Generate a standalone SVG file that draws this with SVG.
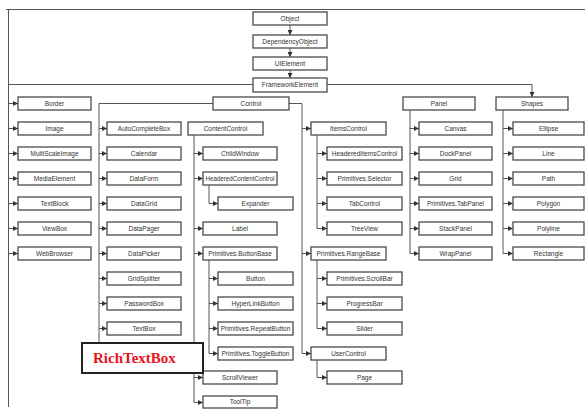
<svg xmlns="http://www.w3.org/2000/svg" width="585" height="409" viewBox="0 0 585 409">
<style>
.b rect{fill:#fff;stroke:#4a4a4a;stroke-width:1.3}
.b text{font-family:"Liberation Sans",Arial,sans-serif;font-size:6.5px;fill:#333;text-anchor:middle}
.c path{fill:none;stroke:#555;stroke-width:1}
.c .a{marker-end:url(#ah)}
</style>
<defs>
<marker id="ah" markerUnits="userSpaceOnUse" markerWidth="5" markerHeight="5" refX="5" refY="2.5" orient="auto">
<path d="M0,0 L5,2.5 L0,5 z" fill="#333"/>
</marker>
</defs>
<rect width="585" height="409" fill="#fff"/>
<g id="connectors" class="c">
<path d="M6,9.5 H585"/>
<path d="M8.5,9 V407"/>
<path class="a" d="M290,25 V35"/>
<path class="a" d="M290,48 V57"/>
<path class="a" d="M290,70 V78"/>
<path d="M253,84.5 H8.5"/>
<path class="a" d="M327,84.5 H532 V97"/>
<path class="a" d="M8.5,103.5 H18"/>
<path class="a" d="M8.5,128.5 H18"/>
<path class="a" d="M8.5,153.5 H18"/>
<path class="a" d="M8.5,178.5 H18"/>
<path class="a" d="M8.5,203.5 H18"/>
<path class="a" d="M8.5,228.5 H18"/>
<path class="a" d="M8.5,253.5 H18"/>
<path d="M213,103.5 H99 V343"/>
<path class="a" d="M99,128.5 H107"/>
<path class="a" d="M99,153.5 H107"/>
<path class="a" d="M99,178.5 H107"/>
<path class="a" d="M99,203.5 H107"/>
<path class="a" d="M99,228.5 H107"/>
<path class="a" d="M99,253.5 H107"/>
<path class="a" d="M99,278.5 H107"/>
<path class="a" d="M99,303.5 H107"/>
<path class="a" d="M99,328.5 H107"/>
<path d="M194,135 V402.5"/>
<path class="a" d="M194,153.5 H203"/>
<path class="a" d="M194,178.5 H203"/>
<path class="a" d="M194,228.5 H203"/>
<path class="a" d="M194,253.5 H203"/>
<path class="a" d="M194,377.5 H203"/>
<path class="a" d="M194,402.5 H203"/>
<path class="a" d="M209,185 V203.5 H218"/>
<path d="M209,260 V353.5"/>
<path class="a" d="M209,278.5 H218"/>
<path class="a" d="M209,303.5 H218"/>
<path class="a" d="M209,328.5 H218"/>
<path class="a" d="M209,353.5 H218"/>
<path d="M289,103.5 H302 V353.5"/>
<path class="a" d="M302,128.5 H311"/>
<path class="a" d="M302,253.5 H311"/>
<path class="a" d="M302,353.5 H311"/>
<path d="M317,135 V228.5"/>
<path class="a" d="M317,153.5 H327"/>
<path class="a" d="M317,178.5 H327"/>
<path class="a" d="M317,203.5 H327"/>
<path class="a" d="M317,228.5 H327"/>
<path d="M317,260 V328.5"/>
<path class="a" d="M317,278.5 H327"/>
<path class="a" d="M317,303.5 H327"/>
<path class="a" d="M317,328.5 H327"/>
<path class="a" d="M317,360 V377.5 H327"/>
<path d="M410,110 V253.5"/>
<path class="a" d="M410,128.5 H419"/>
<path class="a" d="M410,153.5 H419"/>
<path class="a" d="M410,178.5 H419"/>
<path class="a" d="M410,203.5 H419"/>
<path class="a" d="M410,228.5 H419"/>
<path class="a" d="M410,253.5 H419"/>
<path d="M503,110 V253.5"/>
<path class="a" d="M503,128.5 H513"/>
<path class="a" d="M503,153.5 H513"/>
<path class="a" d="M503,178.5 H513"/>
<path class="a" d="M503,203.5 H513"/>
<path class="a" d="M503,228.5 H513"/>
<path class="a" d="M503,253.5 H513"/>
</g>
<g class="b">
<g id="n-object"><rect x="253" y="12" width="74" height="13"/><text x="290" y="20.8">Object</text></g>
<g id="n-dependencyobject"><rect x="253" y="35" width="74" height="13"/><text x="290" y="43.8">DependencyObject</text></g>
<g id="n-uielement"><rect x="253" y="57" width="74" height="13"/><text x="290" y="65.8">UIElement</text></g>
<g id="n-frameworkelement"><rect x="253" y="78" width="74" height="14"/><text x="290" y="87.3">FrameworkElement</text></g>

<g id="n-border"><rect x="18" y="97" width="73" height="13"/><text x="54.5" y="105.8">Border</text></g>
<g id="n-image"><rect x="18" y="122" width="73" height="13"/><text x="54.5" y="130.8">Image</text></g>
<g id="n-multiscaleimage"><rect x="18" y="147" width="73" height="13"/><text x="54.5" y="155.8">MultiScaleImage</text></g>
<g id="n-mediaelement"><rect x="18" y="172" width="73" height="13"/><text x="54.5" y="180.8">MediaElement</text></g>
<g id="n-textblock"><rect x="18" y="197" width="73" height="13"/><text x="54.5" y="205.8">TextBlock</text></g>
<g id="n-viewbox"><rect x="18" y="222" width="73" height="13"/><text x="54.5" y="230.8">ViewBox</text></g>
<g id="n-webbrowser"><rect x="18" y="247" width="73" height="13"/><text x="54.5" y="255.8">WebBrowser</text></g>

<g id="n-control"><rect x="213" y="97" width="76" height="13"/><text x="251" y="105.8">Control</text></g>
<g id="n-autocompletebox"><rect x="107" y="122" width="74" height="13"/><text x="144" y="130.8">AutoCompleteBox</text></g>
<g id="n-calendar"><rect x="107" y="147" width="74" height="13"/><text x="144" y="155.8">Calendar</text></g>
<g id="n-dataform"><rect x="107" y="172" width="74" height="13"/><text x="144" y="180.8">DataForm</text></g>
<g id="n-datagrid"><rect x="107" y="197" width="74" height="13"/><text x="144" y="205.8">DataGrid</text></g>
<g id="n-datapager"><rect x="107" y="222" width="74" height="13"/><text x="144" y="230.8">DataPager</text></g>
<g id="n-datapicker"><rect x="107" y="247" width="74" height="13"/><text x="144" y="255.8">DataPicker</text></g>
<g id="n-gridsplitter"><rect x="107" y="272" width="74" height="13"/><text x="144" y="280.8">GridSplitter</text></g>
<g id="n-passwordbox"><rect x="107" y="297" width="74" height="13"/><text x="144" y="305.8">PasswordBox</text></g>
<g id="n-textbox"><rect x="107" y="322" width="74" height="13"/><text x="144" y="330.8">TextBox</text></g>

<g id="n-contentcontrol"><rect x="188" y="122" width="75" height="13"/><text x="225.5" y="130.8">ContentControl</text></g>
<g id="n-childwindow"><rect x="203" y="147" width="74" height="13"/><text x="240" y="155.8">ChildWindow</text></g>
<g id="n-headeredcontentcontrol"><rect x="203" y="172" width="74" height="13"/><text x="240" y="180.8" textLength="69" lengthAdjust="spacingAndGlyphs">HeaderedContentControl</text></g>
<g id="n-expander"><rect x="218" y="197" width="75" height="13"/><text x="255.5" y="205.8">Expander</text></g>
<g id="n-label"><rect x="203" y="222" width="74" height="13"/><text x="240" y="230.8">Label</text></g>
<g id="n-buttonbase"><rect x="203" y="247" width="74" height="13"/><text x="240" y="255.8">Primitives.ButtonBase</text></g>
<g id="n-button"><rect x="218" y="272" width="75" height="13"/><text x="255.5" y="280.8">Button</text></g>
<g id="n-hyperlinkbutton"><rect x="218" y="297" width="75" height="13"/><text x="255.5" y="305.8">HyperLinkButton</text></g>
<g id="n-repeatbutton"><rect x="218" y="322" width="75" height="13"/><text x="255.5" y="330.8">Primitives.RepeatButton</text></g>
<g id="n-togglebutton"><rect x="218" y="347" width="75" height="13"/><text x="255.5" y="355.8">Primitives.ToggleButton</text></g>
<g id="n-scrollviewer"><rect x="203" y="371" width="74" height="13"/><text x="240" y="379.8">ScrollViewer</text></g>
<g id="n-tooltip"><rect x="203" y="396" width="74" height="12"/><text x="240" y="404.3">ToolTip</text></g>

<g id="n-itemscontrol"><rect x="311" y="122" width="75" height="13"/><text x="348.5" y="130.8">ItemsControl</text></g>
<g id="n-headereditemscontrol"><rect x="327" y="147" width="75" height="13"/><text x="364.5" y="155.8">HeaderedItemsControl</text></g>
<g id="n-selector"><rect x="327" y="172" width="75" height="13"/><text x="364.5" y="180.8">Primitives.Selector</text></g>
<g id="n-tabcontrol"><rect x="327" y="197" width="75" height="13"/><text x="364.5" y="205.8">TabControl</text></g>
<g id="n-treeview"><rect x="327" y="222" width="75" height="13"/><text x="364.5" y="230.8">TreeView</text></g>
<g id="n-rangebase"><rect x="311" y="247" width="75" height="13"/><text x="348.5" y="255.8">Primitives.RangeBase</text></g>
<g id="n-scrollbar"><rect x="327" y="272" width="75" height="13"/><text x="364.5" y="280.8">Primitives.ScrollBar</text></g>
<g id="n-progressbar"><rect x="327" y="297" width="75" height="13"/><text x="364.5" y="305.8">ProgressBar</text></g>
<g id="n-slider"><rect x="327" y="322" width="75" height="13"/><text x="364.5" y="330.8">Slider</text></g>
<g id="n-usercontrol"><rect x="311" y="347" width="75" height="13"/><text x="348.5" y="355.8">UserControl</text></g>
<g id="n-page"><rect x="327" y="371" width="75" height="13"/><text x="364.5" y="379.8">Page</text></g>

<g id="n-panel"><rect x="403" y="97" width="72" height="13"/><text x="439" y="105.8">Panel</text></g>
<g id="n-canvas"><rect x="419" y="122" width="73" height="13"/><text x="455.5" y="130.8">Canvas</text></g>
<g id="n-dockpanel"><rect x="419" y="147" width="73" height="13"/><text x="455.5" y="155.8">DockPanel</text></g>
<g id="n-grid"><rect x="419" y="172" width="73" height="13"/><text x="455.5" y="180.8">Grid</text></g>
<g id="n-tabpanel"><rect x="419" y="197" width="73" height="13"/><text x="455.5" y="205.8">Primitives.TabPanel</text></g>
<g id="n-stackpanel"><rect x="419" y="222" width="73" height="13"/><text x="455.5" y="230.8">StackPanel</text></g>
<g id="n-wrappanel"><rect x="419" y="247" width="73" height="13"/><text x="455.5" y="255.8">WrapPanel</text></g>

<g id="n-shapes"><rect x="496" y="97" width="72" height="13"/><text x="532" y="105.8">Shapes</text></g>
<g id="n-ellipse"><rect x="513" y="122" width="71" height="13"/><text x="548.5" y="130.8">Ellipse</text></g>
<g id="n-line"><rect x="513" y="147" width="71" height="13"/><text x="548.5" y="155.8">Line</text></g>
<g id="n-path"><rect x="513" y="172" width="71" height="13"/><text x="548.5" y="180.8">Path</text></g>
<g id="n-polygon"><rect x="513" y="197" width="71" height="13"/><text x="548.5" y="205.8">Polygon</text></g>
<g id="n-polyline"><rect x="513" y="222" width="71" height="13"/><text x="548.5" y="230.8">Polyline</text></g>
<g id="n-rectangle"><rect x="513" y="247" width="71" height="13"/><text x="548.5" y="255.8">Rectangle</text></g>
</g>
<g id="n-richtextbox">
<rect x="82" y="343" width="121" height="30" fill="#fff" stroke="#222" stroke-width="2"/>
<text x="93" y="363" font-family="'Liberation Serif','Times New Roman',serif" font-size="15" font-weight="bold" fill="#e8141b">RichTextBox</text>
</g>
</svg>
